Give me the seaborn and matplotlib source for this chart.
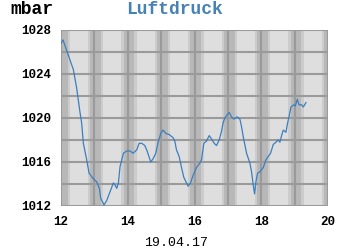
import matplotlib
matplotlib.use("Agg")
import matplotlib.pyplot as plt
import seaborn as sns
import pandas as pd

days = [12.00, 12.06, 12.37, 12.47, 12.57, 12.62, 12.67, 12.77, 12.84, 12.96,
        13.07, 13.15, 13.19, 13.29, 13.37, 13.47, 13.57, 13.62, 13.67, 13.72,
        13.77, 13.87, 13.97, 14.07, 14.16, 14.27, 14.34, 14.42, 14.51, 14.58,
        14.69, 14.76, 14.84, 14.91, 14.99, 15.06, 15.14, 15.24, 15.36, 15.41,
        15.46, 15.54, 15.61, 15.68, 15.76, 15.81, 15.88, 15.96, 16.06, 16.16,
        16.21, 16.28, 16.36, 16.44, 16.51, 16.59, 16.66, 16.74, 16.81, 16.86,
        16.91, 16.98, 17.04, 17.11, 17.18, 17.28, 17.36, 17.41, 17.46, 17.56,
        17.66, 17.71, 17.76, 17.80, 17.84, 17.89, 17.96, 18.06, 18.14, 18.21,
        18.28, 18.36, 18.44, 18.51, 18.56, 18.61, 18.66, 18.74, 18.78, 18.83,
        18.89, 18.97, 19.02, 19.08, 19.13, 19.21, 19.26, 19.34]
pressure = [1026.8, 1027.1, 1024.4, 1022.7, 1020.5, 1019.5, 1017.7, 1016.2, 1015.0, 1014.5,
            1014.2, 1013.6, 1012.7, 1012.1, 1012.5, 1013.3, 1014.1, 1013.9, 1013.6, 1014.1,
            1015.6, 1016.8, 1017.0, 1017.0, 1016.8, 1017.1, 1017.7, 1017.7, 1017.5, 1017.0,
            1016.0, 1016.3, 1016.8, 1017.8, 1018.6, 1018.9, 1018.6, 1018.5, 1018.2, 1017.9,
            1017.1, 1016.5, 1015.5, 1014.6, 1014.1, 1013.8, 1014.1, 1014.8, 1015.5, 1015.9,
            1016.2, 1017.7, 1017.9, 1018.4, 1018.1, 1017.7, 1017.5, 1018.0, 1018.8, 1019.6,
            1020.0, 1020.3, 1020.5, 1020.1, 1019.9, 1020.1, 1019.9, 1019.2, 1018.3, 1016.8,
            1015.9, 1015.1, 1013.9, 1013.1, 1014.2, 1015.0, 1015.1, 1015.5, 1016.2, 1016.5,
            1016.8, 1017.6, 1017.8, 1018.0, 1017.8, 1018.4, 1018.9, 1018.7, 1019.4, 1020.1,
            1021.0, 1021.2, 1021.1, 1021.7, 1021.2, 1021.2, 1021.0, 1021.4]

x_ticks = [12, 14, 16, 18, 20]
y_ticks = [1012, 1016, 1020, 1024, 1028]
title = "Luftdruck"
unit = "mbar"
date_label = "19.04.17"

df = pd.DataFrame({"day": days, "mbar": pressure})

fig = plt.figure(figsize=(3.5, 2.5), dpi=100)
ax = fig.add_axes([61/350, 1-206/250, 267/350, 176/250])

DARK, MID, LIGHT = "#b8b8b8", "#cccccc", "#dedede"
ax.set_facecolor(DARK)
for d in range(12, 20):
    ax.axvspan(d + 0.20, d + 0.27, color=MID, lw=0, zorder=0)
    ax.axvspan(d + 0.27, d + 0.81, color=LIGHT, lw=0, zorder=0)
    ax.axvspan(d + 0.81, d + 0.88, color=MID, lw=0, zorder=0)

for v in range(12, 21):
    ax.axvline(v, color="#9a9a9a", lw=1.5, zorder=1)
for v in range(1012, 1029, 2):
    ax.axhline(v, color="#9a9a9a", lw=1.5, zorder=1)

sns.lineplot(data=df, x="day", y="mbar", ax=ax, color="#3a7fc0", lw=0.9, zorder=3)

ax.set_xlim(12, 20)
ax.set_ylim(1012, 1028)
ax.set_xticks(x_ticks)
ax.set_yticks(y_ticks)
ax.set_xlabel("")
ax.set_ylabel("")
for s in ax.spines.values():
    s.set_visible(False)
ax.tick_params(length=0, pad=7)
for lab in ax.get_xticklabels() + ax.get_yticklabels():
    lab.set_family("Liberation Mono")
    lab.set_fontweight("bold")
    lab.set_fontsize(9)

fig.text(10/350, 1-9/250, unit, family="Liberation Mono", fontweight="bold",
         fontsize=13, ha="left", va="center", color="black")
fig.text(174/350, 1-9/250, title, family="Liberation Mono", fontweight="bold",
         fontsize=13, ha="center", va="center", color="#4682b4")
fig.text(176/350, 1-243/250, date_label, family="Liberation Mono",
         fontsize=9.5, ha="center", va="center", color="black")

fig.savefig("out.png", dpi=100)
